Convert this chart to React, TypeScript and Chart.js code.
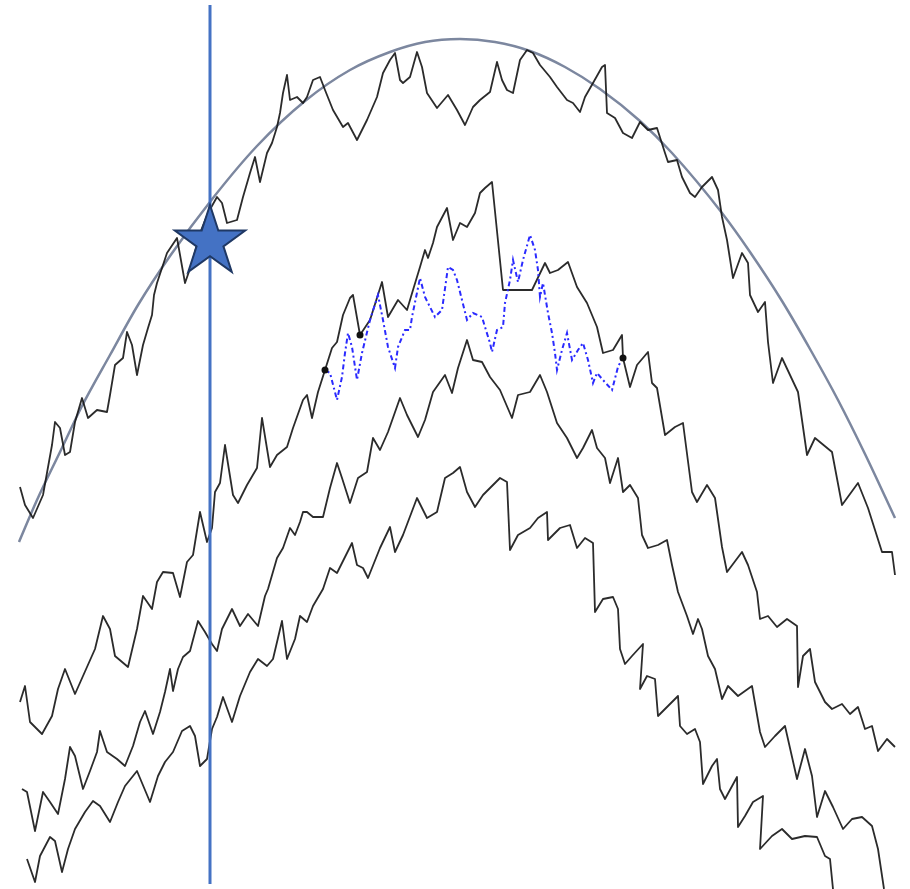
import React, { useEffect, useRef } from "react";
import { Chart, registerables } from "chart.js";

Chart.register(...registerables);

type P = [number, number];

// Smooth reference curve (read values)
const curvePts: P[] = [
  [19, 542], [37, 500], [60, 452], [82, 406], [110, 355], [138, 305], [170, 256], [213, 198],
  [257, 146], [305, 101], [350, 70], [390, 52], [425, 42], [460, 39], [495, 42], [530, 51],
  [565, 67], [600, 89], [640, 121], [672, 153], [722, 213], [750, 252], [782, 301], [810, 349],
  [838, 400], [865, 454], [895, 518],
];

const path1: P[] = [
  [20, 487], [25, 505], [33, 518], [43, 495], [52, 445], [55, 422], [60, 428], [65, 455], [70, 452],
  [75, 422], [82, 398], [88, 418], [97, 410], [107, 412], [110, 395], [115, 365], [123, 358],
  [127, 332], [132, 345], [137, 375], [143, 345], [148, 328], [152, 315], [154, 295], [157, 283],
  [167, 253], [177, 238], [185, 283], [192, 263], [200, 233], [208, 213], [217, 197], [222, 203],
  [227, 223], [237, 220], [243, 197], [250, 173], [255, 157], [260, 182], [267, 153], [272, 143],
  [277, 127], [280, 113], [283, 93], [287, 75], [290, 100], [297, 97], [303, 103], [307, 97],
  [313, 80], [320, 77], [325, 90], [333, 110], [343, 127], [348, 123], [357, 140], [367, 120],
  [377, 97], [383, 73], [390, 60], [395, 53], [400, 80], [403, 83], [410, 77], [417, 52], [422, 67],
  [427, 93], [437, 108], [448, 95], [457, 110], [465, 125], [473, 107], [480, 100], [490, 92],
  [497, 62], [502, 80], [507, 90], [513, 93], [520, 60], [527, 50], [533, 53], [540, 65], [550, 77],
  [557, 87], [567, 100], [573, 103], [580, 112], [585, 97], [593, 83], [602, 67], [605, 65],
  [607, 113], [615, 118], [623, 133], [632, 138], [640, 122], [648, 130], [657, 128], [665, 153],
  [668, 162], [677, 160], [682, 177], [690, 193], [695, 197], [702, 187], [712, 177], [718, 190],
  [722, 217], [727, 240], [733, 278], [742, 253], [748, 263], [750, 295], [758, 312], [765, 302],
  [768, 342], [773, 383], [782, 358], [798, 392], [807, 455], [815, 438], [832, 452], [842, 505],
  [858, 483], [868, 508], [882, 552], [892, 552], [895, 575],
];

const path2: P[] = [
  [20, 702], [25, 686], [30, 722], [42, 734], [52, 716], [58, 689], [65, 669], [75, 694], [83, 676],
  [95, 649], [103, 616], [110, 629], [115, 656], [128, 667], [137, 629], [143, 596], [152, 609],
  [157, 582], [163, 572], [173, 573], [180, 597], [187, 562], [193, 555], [200, 512], [207, 542],
  [212, 528], [215, 492], [220, 483], [225, 445], [233, 495], [238, 503], [247, 485], [257, 468],
  [262, 418], [270, 467], [277, 455], [287, 447], [293, 428], [303, 400], [307, 395], [312, 418],
  [318, 392], [325, 370], [332, 348], [337, 342], [343, 315], [350, 298], [353, 295], [360, 335],
  [370, 320], [382, 282], [388, 317], [398, 300], [407, 310], [413, 290], [420, 267], [425, 250],
  [428, 258], [433, 243], [437, 227], [447, 208], [453, 240], [460, 223], [467, 227], [475, 213],
  [480, 193], [485, 188], [492, 182], [503, 290], [520, 290], [532, 290], [545, 263], [550, 273],
  [558, 270], [568, 262], [577, 287], [587, 303], [597, 327], [603, 353], [613, 350], [622, 335],
  [623, 358], [630, 387], [637, 365], [648, 352], [652, 383], [657, 388], [665, 435], [675, 427],
  [683, 423], [692, 492], [697, 502], [707, 485], [715, 498], [722, 547], [727, 572], [742, 552],
  [748, 565], [757, 592], [760, 619], [768, 616], [777, 627], [787, 619], [797, 626], [798, 687],
  [803, 656], [810, 649], [815, 682], [825, 702], [832, 709], [842, 704], [850, 714], [858, 707],
  [865, 729], [872, 726], [878, 751], [887, 739], [895, 747],
];

const path3: P[] = [
  [22, 789], [27, 792], [35, 831], [43, 792], [50, 802], [58, 814], [65, 779], [70, 747], [75, 756],
  [83, 789], [90, 771], [97, 752], [100, 731], [107, 752], [117, 759], [125, 766], [133, 746],
  [140, 722], [145, 711], [153, 734], [160, 712], [165, 692], [170, 669], [173, 691], [178, 669],
  [183, 657], [190, 651], [198, 621], [205, 632], [212, 644], [217, 651], [222, 629], [232, 609],
  [240, 626], [248, 614], [258, 626], [265, 596], [268, 589], [277, 558], [283, 548], [290, 528],
  [295, 535], [300, 522], [303, 512], [307, 512], [313, 517], [323, 517], [330, 488], [337, 463],
  [342, 478], [350, 503], [358, 478], [367, 472], [373, 438], [380, 450], [388, 432], [400, 398],
  [407, 415], [418, 437], [425, 420], [433, 392], [445, 375], [452, 393], [458, 368], [467, 340],
  [473, 360], [482, 362], [490, 377], [500, 390], [512, 418], [518, 395], [530, 392], [540, 375],
  [547, 392], [557, 423], [567, 438], [577, 458], [583, 448], [592, 430], [597, 448], [605, 458],
  [610, 483], [618, 458], [623, 492], [630, 485], [638, 498], [642, 535], [648, 548], [658, 545],
  [667, 540], [672, 565], [678, 592], [687, 616], [693, 634], [698, 619], [702, 629], [708, 656],
  [715, 669], [722, 699], [728, 686], [738, 696], [752, 686], [760, 732], [765, 747], [775, 736],
  [785, 726], [797, 779], [805, 749], [812, 776], [817, 817], [825, 791], [833, 807], [843, 829],
  [852, 819], [862, 817], [872, 826], [878, 849], [884, 889],
];

const path4: P[] = [
  [27, 859], [35, 882], [40, 856], [50, 837], [55, 841], [62, 872], [68, 849], [75, 829], [85, 812],
  [93, 801], [100, 806], [110, 822], [118, 802], [125, 786], [137, 771], [150, 802], [158, 776],
  [165, 762], [173, 752], [182, 731], [190, 726], [195, 736], [200, 766], [207, 759], [212, 729],
  [217, 717], [223, 697], [232, 722], [240, 696], [250, 672], [258, 659], [267, 666], [273, 659],
  [282, 621], [287, 659], [295, 639], [300, 616], [307, 622], [313, 606], [323, 589], [330, 568],
  [337, 573], [352, 543], [357, 565], [363, 568], [368, 578], [380, 548], [390, 527], [395, 552],
  [403, 535], [417, 498], [427, 518], [437, 512], [445, 478], [453, 473], [460, 467], [467, 492],
  [475, 507], [483, 495], [490, 488], [500, 478], [507, 482], [510, 550], [518, 535], [530, 528],
  [538, 518], [547, 512], [548, 540], [560, 528], [570, 525], [577, 548], [585, 538], [593, 543],
  [595, 612], [603, 599], [613, 597], [618, 609], [620, 649], [625, 664], [632, 656], [643, 644],
  [640, 689], [647, 676], [655, 679], [658, 716], [668, 706], [678, 696], [680, 726], [687, 734],
  [695, 729], [700, 742], [703, 784], [712, 766], [717, 759], [720, 789], [725, 799], [737, 777],
  [738, 827], [745, 816], [753, 802], [763, 796], [760, 849], [772, 836], [782, 829], [792, 839],
  [805, 836], [817, 837], [825, 856], [830, 859], [833, 889],
];

const bluePath: P[] = [
  [325, 370], [330, 373], [337, 400], [342, 377], [345, 353], [348, 333], [352, 347], [357, 380],
  [362, 353], [370, 320], [378, 295], [383, 320], [388, 347], [395, 368], [398, 347], [405, 330],
  [410, 330], [412, 317], [420, 278], [425, 297], [430, 307], [435, 317], [442, 310], [448, 267],
  [453, 270], [457, 280], [462, 300], [467, 320], [473, 313], [482, 317], [485, 327], [490, 343],
  [492, 352], [497, 330], [503, 327], [505, 303], [510, 280], [513, 260], [518, 282], [523, 260],
  [530, 235], [535, 250], [538, 270], [540, 297], [543, 283], [548, 313], [552, 333], [555, 353],
  [557, 370], [562, 350], [567, 333], [572, 360], [578, 350], [583, 343], [588, 360], [593, 383],
  [597, 373], [603, 380], [612, 390], [618, 367], [623, 357],
];

const markerDots: P[] = [[325, 370], [360, 335], [623, 358]];
const cursorX = 210;
const cursorSpan: number[] = [5, 884];
const starPoint: P = [210, 240];

const toXY = (arr: P[]) => arr.map(([x, y]) => ({ x, y }));

function makeStar(): HTMLCanvasElement {
  const c = document.createElement("canvas");
  const size = 80;
  c.width = size;
  c.height = size;
  const ctx = c.getContext("2d")!;
  const cx = size / 2;
  const cy = size / 2 + 2;
  const R = 37;
  const r = R * 0.382;
  ctx.beginPath();
  for (let i = 0; i < 10; i++) {
    const rad = i % 2 === 0 ? R : r;
    const a = -Math.PI / 2 + (i * Math.PI) / 5;
    const px = cx + rad * Math.cos(a);
    const py = cy + rad * Math.sin(a);
    if (i === 0) ctx.moveTo(px, py);
    else ctx.lineTo(px, py);
  }
  ctx.closePath();
  ctx.fillStyle = "#4472c4";
  ctx.fill();
  ctx.lineWidth = 2;
  ctx.lineJoin = "miter";
  ctx.strokeStyle = "#1f3864";
  ctx.stroke();
  return c;
}

export default function App() {
  const ref = useRef<HTMLCanvasElement | null>(null);
  useEffect(() => {
    document.body.style.margin = "0";
    const canvas = ref.current!;
    const star = makeStar();
    const black = "rgba(20,20,20,0.9)";
    const lineDs = (data: P[]) => ({
      type: "line" as const,
      data: toXY(data),
      borderColor: black,
      borderWidth: 1.8,
      pointRadius: 0,
      tension: 0,
      borderJoinStyle: "round" as const,
    });
    const chart = new Chart(canvas, {
      type: "line",
      data: {
        datasets: [
          {
            data: [{ x: starPoint[0], y: starPoint[1] }],
            pointStyle: star as any,
            pointRadius: 36,
            showLine: false,
            borderWidth: 0,
          } as any,
          {
            data: cursorSpan.map((y) => ({ x: cursorX, y })),
            borderColor: "#4472c4",
            borderWidth: 3,
            pointRadius: 0,
          },
          {
            data: toXY(markerDots),
            showLine: false,
            pointRadius: 3.5,
            pointBackgroundColor: "#111",
            pointBorderWidth: 0,
          },
          {
            data: toXY(bluePath),
            borderColor: "#2a2aff",
            borderWidth: 2,
            borderDash: [5, 3, 2, 3],
            pointRadius: 0,
            tension: 0,
          },
          lineDs(path1),
          lineDs(path2),
          lineDs(path3),
          lineDs(path4),
          {
            data: toXY(curvePts),
            borderColor: "#7c879f",
            borderWidth: 2.5,
            pointRadius: 0,
            cubicInterpolationMode: "monotone",
          },
        ],
      },
      options: {
        animation: false,
        responsive: false,
        devicePixelRatio: 1,
        layout: { padding: 0, autoPadding: false },
        plugins: { legend: { display: false }, tooltip: { enabled: false } },
        scales: {
          x: { type: "linear", min: 0, max: 910, display: false },
          y: { type: "linear", min: 0, max: 889, reverse: true, display: false },
        },
      },
    });
    return () => chart.destroy();
  }, []);
  return (
    <div style={{ width: 910, height: 889, background: "#fff" }}>
      <canvas ref={ref} width={910} height={889} />
    </div>
  );
}
